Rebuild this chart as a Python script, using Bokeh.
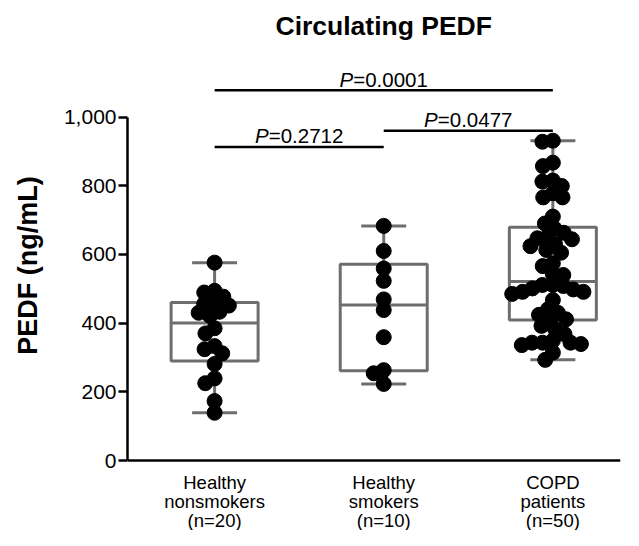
import math
import numpy as np
from bokeh.plotting import figure
from bokeh.models import Range1d, FixedTicker, NumeralTickFormatter, ColumnDataSource, Span
from bokeh.embed import file_html
from bokeh.resources import INLINE
from bokeh.core.properties import value

# ---------------- data ----------------
group_labels = ["Healthy\nnonsmokers\n(n=20)", "Healthy\nsmokers\n(n=10)", "COPD\npatients\n(n=50)"]
nonsmokers = [576, 494, 477, 489, 456, 460, 451, 433, 430, 421,
              385, 370, 324, 333, 312, 281, 239, 225, 173, 139]
smokers = [683, 610, 559, 523, 469, 438, 359, 263, 254, 223]
copd = [928, 931, 867, 857, 799, 815, 812, 766, 766, 778,
        710, 690, 676, 663, 652, 644, 624, 605, 613, 630,
        647, 574, 566, 543, 540, 511, 498, 491, 485, 491,
        501, 508, 511, 467, 440, 424, 430, 409, 411, 392,
        382, 368, 349, 339, 336, 343, 343, 343, 314, 293]
box_q1 = [290, 261, 409]
box_median = [400, 453, 521]
box_q3 = [460, 571, 679]
whisker_low = [139, 223, 293]
whisker_high = [576, 683, 931]
y_ticks = [0, 200, 400, 600, 800, 1000]
comp_from = [1, 1, 2]
comp_to = [3, 2, 3]
p_values = ["0.0001", "0.2712", "0.0477"]
title_text = "Circulating PEDF"
y_label = "PEDF (ng/mL)"

# ---------------- layout ----------------
W, H = 623, 530
BL, BR, BT, BB = 127, 3, 0, 0
X0, X1 = 0.485, 3.40
PX_PER_Y = 0.3435
ZERO_PX = 460            # canvas y of the value 0
frame_w = W - BL - BR
Y0 = -(H - ZERO_PX) / PX_PER_Y
Y1 = ZERO_PX / PX_PER_Y
px_per_x = frame_w / (X1 - X0)
FONT = "Liberation Sans"
GRAY = "#6e6e6e"
bracket_y = [1078, 913, 960]
title_y = 1266
cat_baselines_px = [22, 41, 60]   # below the x axis

p = figure(width=W, height=H, output_backend="svg", toolbar_location=None,
           x_range=Range1d(X0, X1), y_range=Range1d(Y0, Y1),
           min_border_left=BL, min_border_right=BR, min_border_top=BT,
           min_border_bottom=BB)
p.outline_line_color = None
p.xgrid.grid_line_color = None
p.ygrid.grid_line_color = None
p.background_fill_color = "white"
p.border_fill_color = "white"
p.xaxis.visible = False

# x axis line at zero
p.add_layout(Span(location=0, dimension="width", line_color="black", line_width=2.5))

ya = p.yaxis[0]
ya.ticker = FixedTicker(ticks=y_ticks)
ya.formatter = NumeralTickFormatter(format="0,0")
ya.bounds = (0, 1000)
ya.axis_line_width = 2.5
ya.axis_line_color = "black"
ya.major_tick_line_width = 2.5
ya.major_tick_line_color = "black"
ya.major_tick_out = 9
ya.major_tick_in = 0
ya.minor_tick_line_color = None
ya.major_label_text_font = FONT
ya.major_label_text_font_size = "21px"
ya.major_label_text_color = "black"
ya.major_label_standoff = 2
ya.axis_label = y_label
ya.axis_label_text_font = FONT
ya.axis_label_text_font_size = "27px"
ya.axis_label_text_font_style = "bold"
ya.axis_label_text_color = "black"
ya.axis_label_standoff = 18

# category labels (three lines each)
xs = [1, 2, 3]
lx, ly, lt = [], [], []
for gi, lab in enumerate(group_labels):
    for li, line in enumerate(lab.split("\n")):
        lx.append(xs[gi])
        ly.append(-cat_baselines_px[li] / PX_PER_Y)
        lt.append(line)
p.text(x=lx, y=ly, text=lt, text_align="center", text_baseline="alphabetic",
       text_font=value(FONT), text_font_size="18.5px", text_color="black")

# boxes
BOX_W = 87 / px_per_x
CAP_W = 45 / px_per_x
p.quad(left=[x - BOX_W / 2 for x in xs], right=[x + BOX_W / 2 for x in xs],
       bottom=box_q1, top=box_q3, fill_color=None, line_color=GRAY, line_width=3)
p.segment(x0=[x - BOX_W / 2 for x in xs], x1=[x + BOX_W / 2 for x in xs],
          y0=box_median, y1=box_median, line_color=GRAY, line_width=3)
p.segment(x0=xs, x1=xs, y0=box_q3, y1=whisker_high, line_color=GRAY, line_width=3)
p.segment(x0=xs, x1=xs, y0=box_q1, y1=whisker_low, line_color=GRAY, line_width=3)
p.segment(x0=[x - CAP_W / 2 for x in xs], x1=[x + CAP_W / 2 for x in xs],
          y0=whisker_high, y1=whisker_high, line_color=GRAY, line_width=3)
p.segment(x0=[x - CAP_W / 2 for x in xs], x1=[x + CAP_W / 2 for x in xs],
          y0=whisker_low, y1=whisker_low, line_color=GRAY, line_width=3)


# beeswarm
def swarm(vals, d):
    vals = np.asarray(vals, dtype=float)
    order = np.argsort(-vals, kind="stable")
    placed = []
    offs = np.zeros(len(vals))
    for idx in order:
        y = vals[idx] * PX_PER_Y
        cands = [0.0]
        for (xp, yp) in placed:
            dy = abs(y - yp)
            if dy < d:
                dx = math.sqrt(d * d - dy * dy)
                cands += [xp + dx, xp - dx]
        cands.sort(key=lambda c: (abs(c), c))
        for c in cands:
            if all((c - xp) ** 2 + (y - yp) ** 2 >= d * d - 1e-6 for xp, yp in placed):
                offs[idx] = c
                break
        placed.append((offs[idx], y))
    return offs


all_x, all_y = [], []
for gi, vals in enumerate([nonsmokers, smokers, copd]):
    offs = swarm(vals, 10.5)
    all_x += list(gi + 1 + offs / px_per_x)
    all_y += list(vals)
p.scatter(x=all_x, y=all_y, size=15, fill_color="black", line_color="black")

# significance brackets
p.segment(x0=comp_from, x1=comp_to, y0=bracket_y, y1=bracket_y,
          line_color="black", line_width=2.5)
fs = 20.5
total_w = (0.667 + 0.584 + 0.556 + 0.278 + 4 * 0.556) * fs
p_w = 0.667 * fs
centers = [(a + b) / 2 for a, b in zip(comp_from, comp_to)]
split = [c - (total_w / 2 - p_w) / px_per_x for c in centers]
src = ColumnDataSource(dict(x=split, y=bracket_y, t=["=" + v for v in p_values],
                            pt=["P"] * len(p_values)))
p.text(x="x", y="y", text="pt", source=src, text_align="right", text_baseline="alphabetic",
       y_offset=-11, text_font=value(FONT), text_font_size=f"{fs}px",
       text_font_style="italic", text_color="black")
p.text(x="x", y="y", text="t", source=src, text_align="left", text_baseline="alphabetic",
       y_offset=-11, text_font=value(FONT), text_font_size=f"{fs}px", text_color="black")

# title
p.text(x=[2], y=[title_y], text=[title_text], text_align="center",
       text_baseline="middle", text_font=value(FONT), text_font_size="26.5px",
       text_font_style="bold", text_color="black")

open("out.html", "w").write(file_html(p, INLINE))
